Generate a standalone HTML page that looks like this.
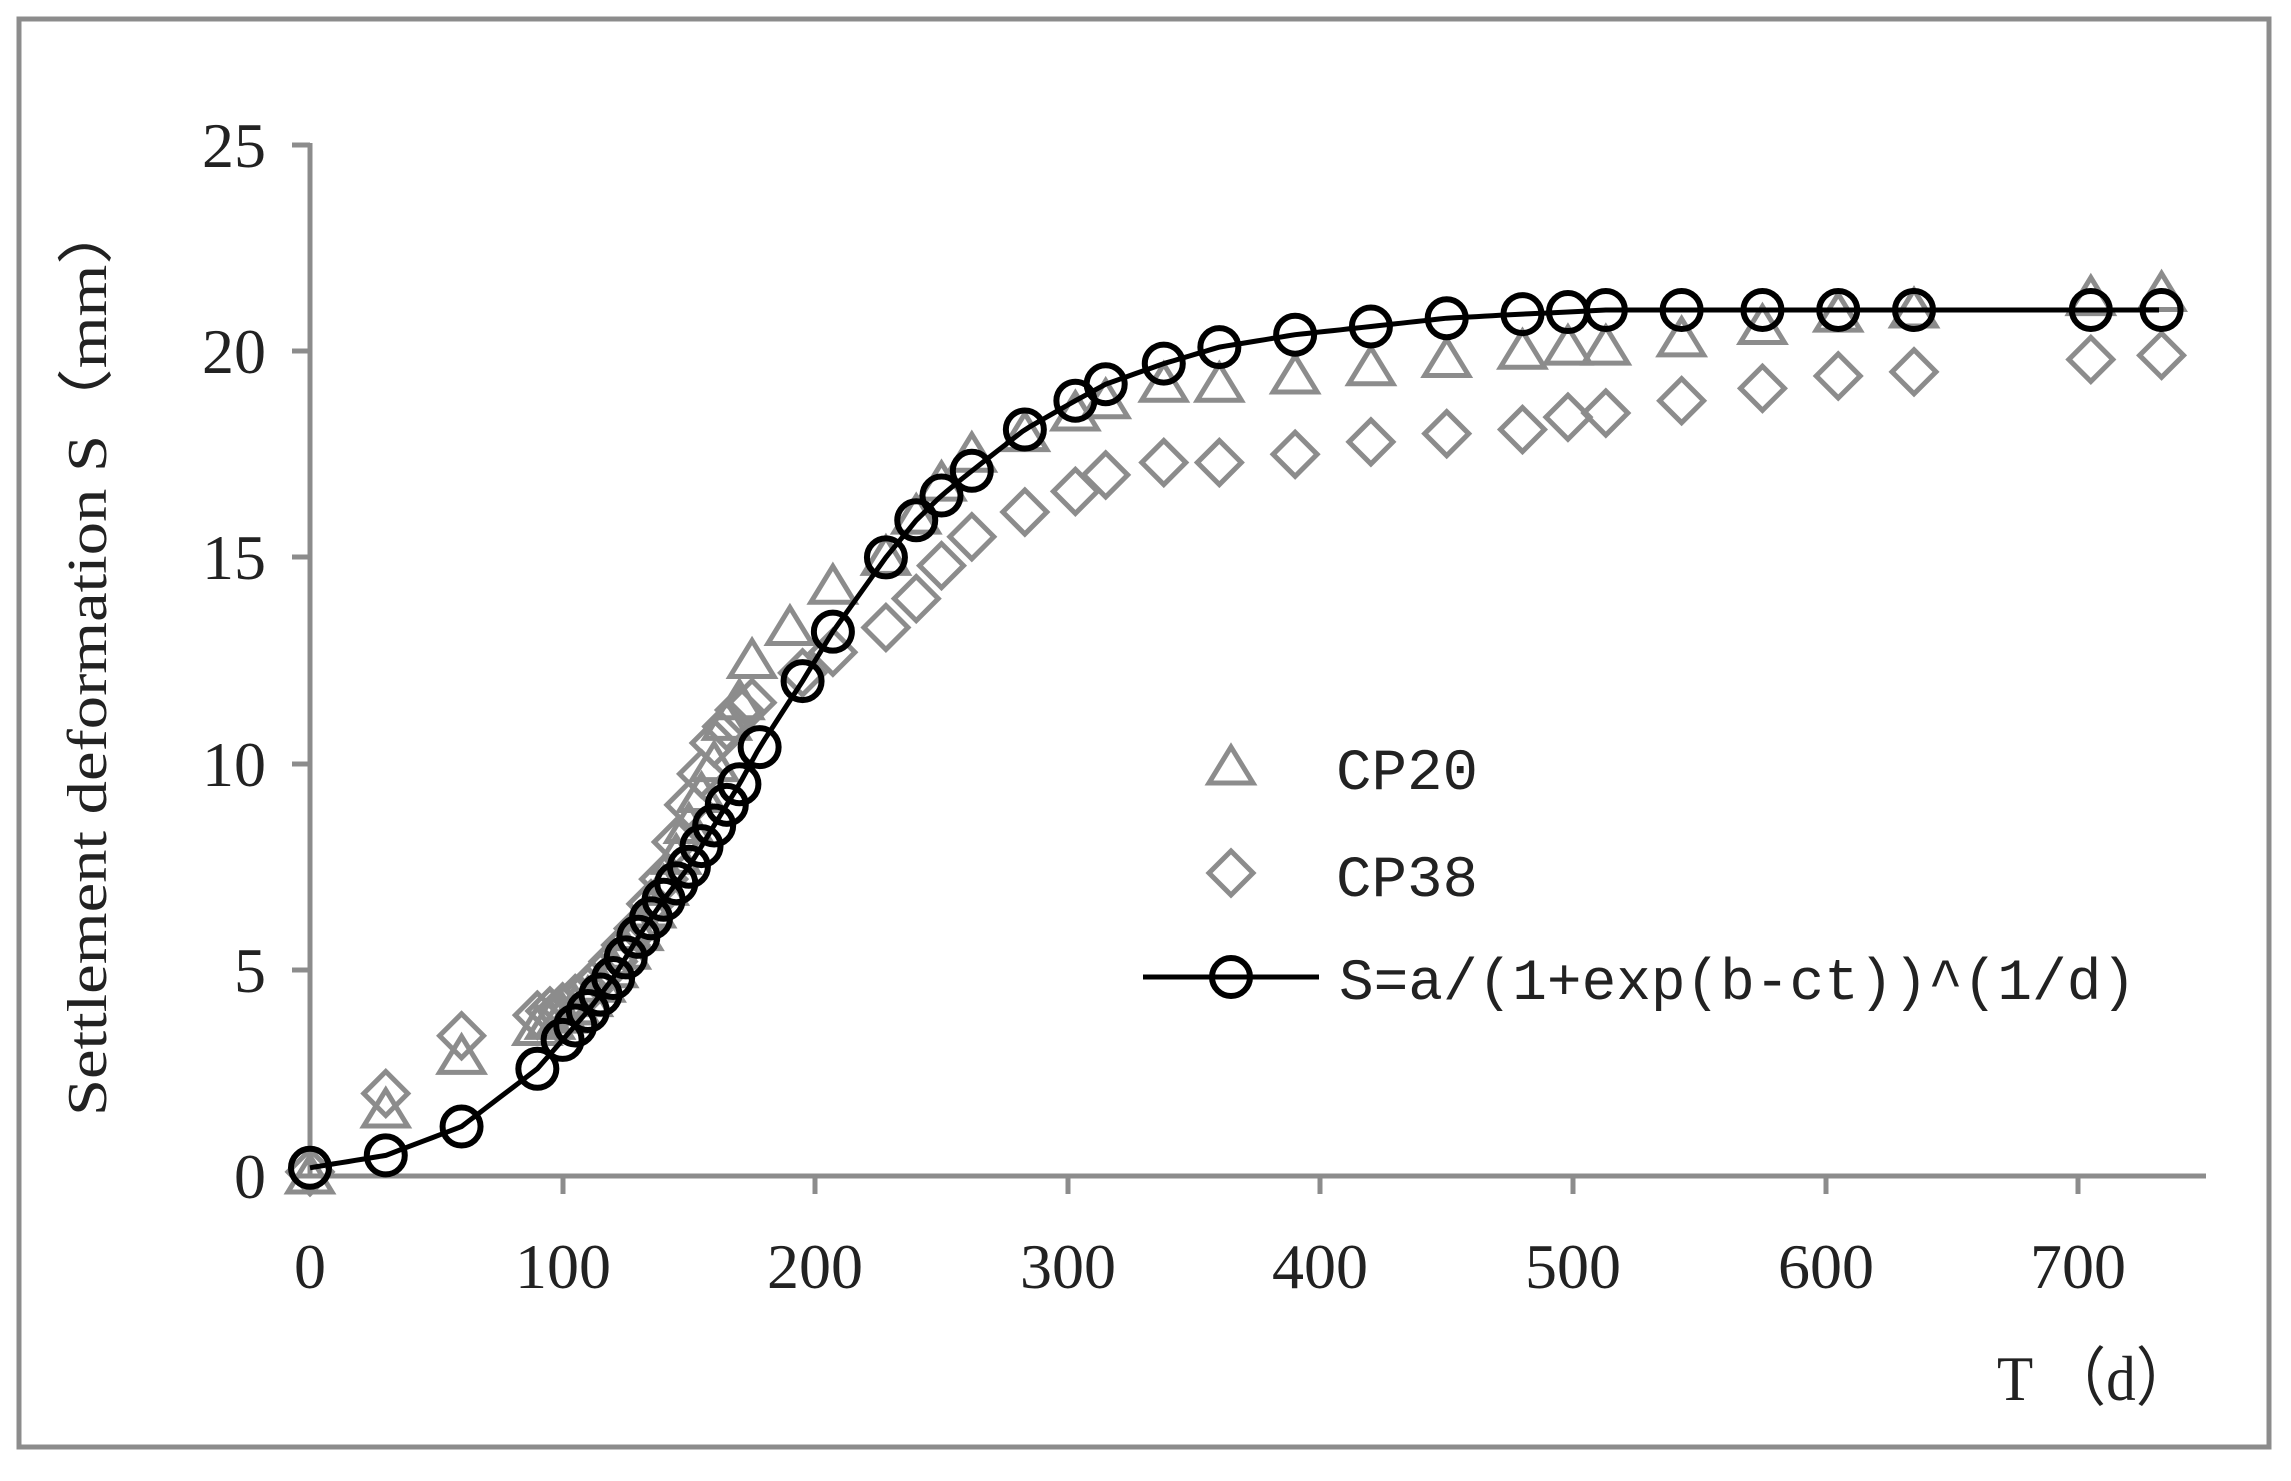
<!DOCTYPE html>
<html><head><meta charset="utf-8"><style>
html,body{margin:0;padding:0;background:#fff;}
svg{display:block;}
</style></head><body>
<svg id="s" width="2291" height="1481" viewBox="0 0 2291 1481" xmlns="http://www.w3.org/2000/svg">
<rect x="19" y="19" width="2250" height="1428" fill="#fff" stroke="#8c8c8c" stroke-width="5"/>
<g stroke="#8c8c8c" stroke-width="5" fill="none">
<line x1="310" y1="143" x2="310" y2="1178"/>
<line x1="308" y1="1176" x2="2206" y2="1176"/>
<line x1="292" y1="145" x2="310" y2="145"/>
<line x1="292" y1="351" x2="310" y2="351"/>
<line x1="292" y1="557" x2="310" y2="557"/>
<line x1="292" y1="764" x2="310" y2="764"/>
<line x1="292" y1="970" x2="310" y2="970"/>
<line x1="292" y1="1176" x2="310" y2="1176"/>
<line x1="563" y1="1176" x2="563" y2="1194"/>
<line x1="815" y1="1176" x2="815" y2="1194"/>
<line x1="1068" y1="1176" x2="1068" y2="1194"/>
<line x1="1320" y1="1176" x2="1320" y2="1194"/>
<line x1="1573" y1="1176" x2="1573" y2="1194"/>
<line x1="1826" y1="1176" x2="1826" y2="1194"/>
<line x1="2078" y1="1176" x2="2078" y2="1194"/>
</g>
<g font-family="Liberation Serif, serif" font-size="64" fill="#222" text-anchor="end">
<text x="266" y="167">25</text>
<text x="266" y="373">20</text>
<text x="266" y="579">15</text>
<text x="266" y="786">10</text>
<text x="266" y="992">5</text>
<text x="266" y="1198">0</text>
</g>
<g font-family="Liberation Serif, serif" font-size="64" fill="#222" text-anchor="middle">
<text x="310" y="1288">0</text>
<text x="563" y="1288">100</text>
<text x="815" y="1288">200</text>
<text x="1068" y="1288">300</text>
<text x="1320" y="1288">400</text>
<text x="1573" y="1288">500</text>
<text x="1826" y="1288">600</text>
<text x="2078" y="1288">700</text>
</g>
<text transform="translate(106,657) rotate(-90)" font-family="Liberation Serif, serif" font-size="56" fill="#222" text-anchor="middle" textLength="918" lengthAdjust="spacingAndGlyphs">Settlement deformation S（mm）</text>
<text x="1997" y="1400" font-family="Liberation Serif, serif" font-size="64" fill="#222" textLength="198" lengthAdjust="spacingAndGlyphs">T （d）</text>
<g id="data"></g>
<g font-family="Liberation Mono, monospace" font-size="58" fill="#222">
<text x="1336" y="789" textLength="142" lengthAdjust="spacingAndGlyphs">CP20</text>
<text x="1336" y="896" textLength="142" lengthAdjust="spacingAndGlyphs">CP38</text>
<text x="1339" y="999" textLength="797" lengthAdjust="spacingAndGlyphs">S=a/(1+exp(b-ct))^(1/d)</text>
</g>
<polygon points="1231,747 1253,783 1209,783" fill="none" stroke="#8c8c8c" stroke-width="5"/>
<polygon points="1231,851 1253,873 1231,895 1209,873" fill="none" stroke="#8c8c8c" stroke-width="5"/>
<line x1="1143" y1="977" x2="1319" y2="977" stroke="#000" stroke-width="5"/>
<circle cx="1231" cy="977" r="19" fill="none" stroke="#000" stroke-width="6"/>
</svg>
<script>
var X=function(t){return 310+t*2.526},Y=function(s){return 1176-s*41.24};
function interp(pts,t){for(var i=0;i<pts.length-1;i++){if(t>=pts[i][0]&&t<=pts[i+1][0]){var f=(t-pts[i][0])/(pts[i+1][0]-pts[i][0]);return pts[i][1]+f*(pts[i+1][1]-pts[i][1]);}}return pts[pts.length-1][1];}
var fit=[[0,0.2],[30,0.5],[60,1.2],[90,2.6],[100,3.3],[110,4.0],[120,4.8],[130,5.8],[140,6.7],[150,7.5],[160,8.5],[170,9.5],[178,10.4],[195,12.0],[207,13.2],[228,15.0],[240,15.9],[250,16.5],[262,17.1],[283,18.1],[303,18.8],[315,19.2],[338,19.7],[360,20.1],[390,20.4],[420,20.6],[450,20.8],[480,20.9],[498,20.95],[513,21.0],[733,21.0]];
var cp20=[[0,0],[30,1.6],[60,2.9],[90,3.6],[100,3.9],[110,4.3],[120,5.0],[130,5.9],[140,7.0],[150,8.5],[160,10],[165,11],[170,11.5],[175,12.5],[190,13.3],[207,14.3],[228,15],[240,16],[250,16.8],[262,17.5],[283,18],[303,18.5],[315,18.8],[338,19.2],[360,19.2],[390,19.4],[420,19.6],[450,19.8],[480,20],[498,20.1],[513,20.1],[543,20.3],[575,20.6],[605,20.9],[635,21],[705,21.3],[733,21.4]];
var cp38=[[0,0.1],[30,2.0],[60,3.4],[90,3.9],[100,4.1],[110,4.5],[120,5.2],[130,6.0],[140,7.2],[150,9],[160,10.5],[170,11.3],[195,12.2],[207,12.7],[228,13.3],[240,14],[250,14.8],[262,15.5],[283,16.1],[303,16.6],[315,17],[338,17.3],[360,17.3],[390,17.5],[420,17.8],[450,18],[480,18.1],[498,18.4],[513,18.5],[543,18.8],[575,19.1],[605,19.4],[635,19.5],[705,19.8],[733,19.9]];
var ts=[0,30,60,90,95,100,105,110,115,120,125,130,135,140,145,150,155,160,165,170,175];
var dense20=[],dense38=[];
ts.forEach(function(t){dense20.push([t,interp(cp20,t)]);dense38.push([t,interp(cp38,t)]);});
cp20.forEach(function(p){if(p[0]>175)dense20.push(p);});
cp38.forEach(function(p){if(p[0]>175)dense38.push(p);});
var fitT=[0,30,60,90,100,105,110,115,120,125,130,135,140,145,150,155,160,165,170,178,195,207,228,240,250,262,283,303,315,338,360,390,420,450,480,498,513,543,575,605,635,705,733];
var h='';
var line=[];for(var t=0;t<=733;t+=3)line.push(X(t).toFixed(1)+','+Y(interp(fit,t)).toFixed(1));
dense20.forEach(function(p){var x=X(p[0]),y=Y(p[1]);h+='<polygon points="'+x+','+(y-20)+' '+(x+22)+','+(y+16)+' '+(x-22)+','+(y+16)+'" fill="none" stroke="#8c8c8c" stroke-width="5"/>';});
dense38.forEach(function(p){var x=X(p[0]),y=Y(p[1]);h+='<polygon points="'+x+','+(y-22)+' '+(x+22)+','+y+' '+x+','+(y+22)+' '+(x-22)+','+y+'" fill="none" stroke="#8c8c8c" stroke-width="5"/>';});
h+='<polyline points="'+line.join(' ')+'" fill="none" stroke="#000" stroke-width="5"/>';
fitT.forEach(function(t){h+='<circle cx="'+X(t)+'" cy="'+Y(interp(fit,t))+'" r="19" fill="none" stroke="#000" stroke-width="6"/>';});
document.getElementById('data').innerHTML=h;
</script>
</body></html>
